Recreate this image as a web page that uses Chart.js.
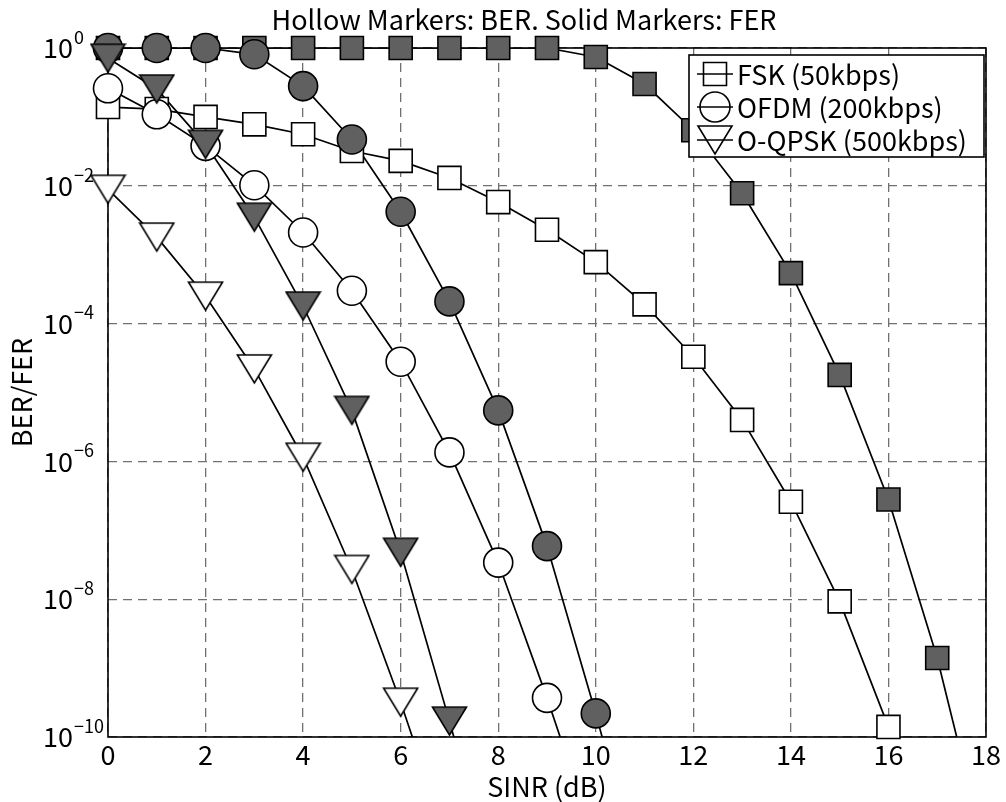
<!DOCTYPE html>
<html><head><meta charset="utf-8">
<script src="https://cdn.jsdelivr.net/npm/chart.js@4.4.1/dist/chart.umd.min.js"></script>
<style>html,body{margin:0;padding:0;background:#fff}#wrap{width:1006px;height:802px}</style>
</head><body><div id="wrap"><canvas id="c" width="1006" height="802"></canvas></div>
<script>
const FONT = "'Noto Sans CJK JP', 'DejaVu Sans', sans-serif";
const chartTitle = 'Hollow Markers: BER. Solid Markers: FER';
const xAxisTitle = 'SINR (dB)';
const yAxisTitle = 'BER/FER';
const seriesNames = ['FSK (50kbps)', 'OFDM (200kbps)', 'O-QPSK (500kbps)'];
const xTickValues = [0, 2, 4, 6, 8, 10, 12, 14, 16, 18];
const yTickValues = [1e-10, 1e-8, 1e-6, 1e-4, 1e-2, 1];
const yTickBase = '10';
const yTickExponents = ['−10', '−8', '−6', '−4', '−2', '0'];

const sinr = [0, 1, 2, 3, 4, 5, 6, 7, 8, 9, 10, 11, 12, 13, 14, 15, 16, 17];
const fskFer = [1, 1, 1, 1, 1, 1, 1, 1, 1, 1, 0.74, 0.30, 0.064, 7.8e-3, 5.4e-4, 1.8e-5, 2.8e-7, 1.4e-9];
const fskBer = [0.139, 0.13, 0.10, 0.078, 0.056, 0.032, 0.023, 0.013, 5.8e-3, 2.3e-3, 7.8e-4, 1.9e-4, 3.3e-5, 4.0e-6, 2.6e-7, 9.3e-9, 1.4e-10];
const ofdmFer = [1, 1, 1, 0.81, 0.28, 0.047, 4.2e-3, 2.1e-4, 5.5e-6, 5.9e-8, 2.2e-10];
const ofdmBer = [0.26, 0.109, 0.038, 0.0102, 2.1e-3, 3.0e-4, 2.8e-5, 1.35e-6, 3.4e-8, 3.7e-10];
const oqpskFer = [0.71, 0.254, 0.040, 3.5e-3, 1.8e-4, 5.5e-6, 4.8e-8, 1.7e-10];
const oqpskBer = [8.9e-3, 1.8e-3, 2.5e-4, 2.2e-5, 1.15e-6, 2.7e-8, 3.2e-10];
// SINR at which each curve leaves the bottom of the plot (value 1e-10)
const fskFerExit = 17.4, fskBerExit = 16.09, ofdmFerExit = 10.13, ofdmBerExit = 9.27, oqpskFerExit = 7.09, oqpskBerExit = 6.24;

const FILL = '#606060';
function triCanvas(fill) {
  const c = document.createElement('canvas');
  c.width = 37; c.height = 32;
  const g = c.getContext('2d');
  g.beginPath(); g.moveTo(1.5, 2); g.lineTo(35.5, 2); g.lineTo(18.5, 30); g.closePath();
  g.fillStyle = fill; g.fill(); g.lineWidth = 1.6; g.strokeStyle = '#000'; g.stroke();
  return c;
}
const triFilled = triCanvas(FILL), triHollow = triCanvas('#fff');

const pts = (vals) => vals.map((v, i) => ({x: sinr[i], y: v}));
const linePts = (vals, exit) => pts(vals).concat([{x: exit, y: 1e-10}]);

function markerDs(label, vals, style, fill, order) {
  const base = {label, data: pts(vals), showLine: false, clip: false, order,
    pointBorderColor: '#000', pointBackgroundColor: fill, pointBorderWidth: 1.6};
  if (style === 'rect') Object.assign(base, {pointStyle: 'rect', pointRadius: 16.3});
  else if (style === 'circle') Object.assign(base, {pointStyle: 'circle', pointRadius: 14.5});
  else Object.assign(base, {pointStyle: fill === FILL ? triFilled : triHollow, pointRadius: 16});
  return base;
}
function lineDs(vals, exit, order) {
  return {label: '_line', data: linePts(vals, exit), borderColor: '#000', borderWidth: 1.7,
    pointRadius: 0, order, fill: false, tension: 0};
}

const datasets = [
  markerDs('O-QPSK FER', oqpskFer, 'tri', FILL, 1),
  markerDs('O-QPSK BER', oqpskBer, 'tri', '#fff', 2),
  markerDs('OFDM FER', ofdmFer, 'circle', FILL, 3),
  markerDs('OFDM BER', ofdmBer, 'circle', '#fff', 4),
  markerDs('FSK FER', fskFer, 'rect', FILL, 5),
  markerDs('FSK BER', fskBer, 'rect', '#fff', 6),
  lineDs(oqpskFer, oqpskFerExit, 7),
  lineDs(oqpskBer, oqpskBerExit, 8),
  lineDs(ofdmFer, ofdmFerExit, 9),
  lineDs(ofdmBer, ofdmBerExit, 10),
  lineDs(fskFer, fskFerExit, 11),
  lineDs(fskBer, fskBerExit, 12)
];

const framePlugin = {
  id: 'frame',
  afterLayout(chart) { if (chart.titleBlock) chart.titleBlock.left = 62; },
  beforeDatasetsDraw(chart) {
    const {ctx, chartArea: a} = chart;
    ctx.save(); ctx.strokeStyle = '#000'; ctx.lineWidth = 1.6;
    ctx.strokeRect(a.left, a.top, a.right - a.left, a.bottom - a.top);
    ctx.restore();
  },
  afterDraw(chart) {
    const {ctx, chartArea: a} = chart;
    // y tick labels: 10 with raised exponent
    const ys = chart.scales.y;
    ctx.save();
    ctx.fillStyle = '#000'; ctx.textAlign = 'left'; ctx.textBaseline = 'middle';
    yTickValues.forEach((v, i) => {
      const py = ys.getPixelForValue(v);
      ctx.font = '27px ' + FONT;
      const w = ctx.measureText(yTickBase).width;
      ctx.fillText(yTickBase, ys.left, py);
      ctx.font = '18px ' + FONT;
      ctx.fillText(yTickExponents[i], ys.left + w + 1, py - 11);
    });
    ctx.restore();
    // legend
    const bw = 295, bh = 102, bx = a.right - 2 - bw, by = a.top + 7;
    ctx.save();
    ctx.fillStyle = '#fff'; ctx.fillRect(bx, by, bw, bh);
    ctx.strokeStyle = '#000'; ctx.lineWidth = 1.6; ctx.strokeRect(bx, by, bw, bh);
    const rowY = [by + 19, by + 52, by + 85];
    const mx = bx + 26;
    ctx.font = '27px ' + FONT; ctx.textBaseline = 'middle'; ctx.textAlign = 'left';
    seriesNames.forEach((name, i) => {
      const y = rowY[i];
      ctx.beginPath(); ctx.moveTo(mx - 18, y); ctx.lineTo(mx + 18, y);
      ctx.lineWidth = 1.6; ctx.strokeStyle = '#000'; ctx.stroke();
      ctx.beginPath();
      if (i === 0) ctx.rect(mx - 11.5, y - 11.5, 23, 23);
      else if (i === 1) ctx.arc(mx, y, 15, 0, Math.PI * 2);
      else { ctx.moveTo(mx - 17, y - 14); ctx.lineTo(mx + 17, y - 14); ctx.lineTo(mx, y + 14); ctx.closePath(); }
      ctx.stroke();
      ctx.fillStyle = '#000'; ctx.fillText(name, mx + 22, y + 1);
    });
    ctx.restore();
  }
};

new Chart(document.getElementById('c'), {
  type: 'line',
  data: {datasets},
  plugins: [framePlugin],
  options: {
    responsive: false, animation: false, devicePixelRatio: 1,
    layout: {padding: {left: 43, right: 20, top: 0, bottom: 0}},
    plugins: {
      legend: {display: false}, tooltip: {enabled: false},
      title: {display: true, text: chartTitle, color: '#000',
        font: {family: FONT, size: 27, weight: 'normal', lineHeight: 1.2}, padding: {top: 4, bottom: 11.6}}
    },
    scales: {
      x: {type: 'linear', min: 0, max: 18,
        afterFit(s) { s.height = 65; },
        afterBuildTicks(s) { s.ticks = xTickValues.map(v => ({value: v})); },
        ticks: {color: '#000', padding: 2, font: {family: FONT, size: 27, lineHeight: 1.2}, callback: v => String(v)},
        grid: {color: '#707070', lineWidth: 1.3, drawTicks: false},
        border: {display: false, dash: [9, 6]},
        title: {display: true, text: xAxisTitle, color: '#000', font: {family: FONT, size: 27, lineHeight: 1.2}, padding: {top: 0, bottom: -1}}
      },
      y: {type: 'logarithmic', min: 1e-10, max: 1,
        afterFit(s) { s.width = 65; },
        afterBuildTicks(s) { s.ticks = yTickValues.map(v => ({value: v})); },
        ticks: {display: false},
        grid: {color: '#707070', lineWidth: 1.3, drawTicks: false},
        border: {display: false, dash: [9, 6]},
        title: {display: true, text: yAxisTitle, color: '#000', font: {family: FONT, size: 27, lineHeight: 1.2}, padding: {top: -37.2, bottom: 0}}
      }
    }
  }
});
</script></body></html>
